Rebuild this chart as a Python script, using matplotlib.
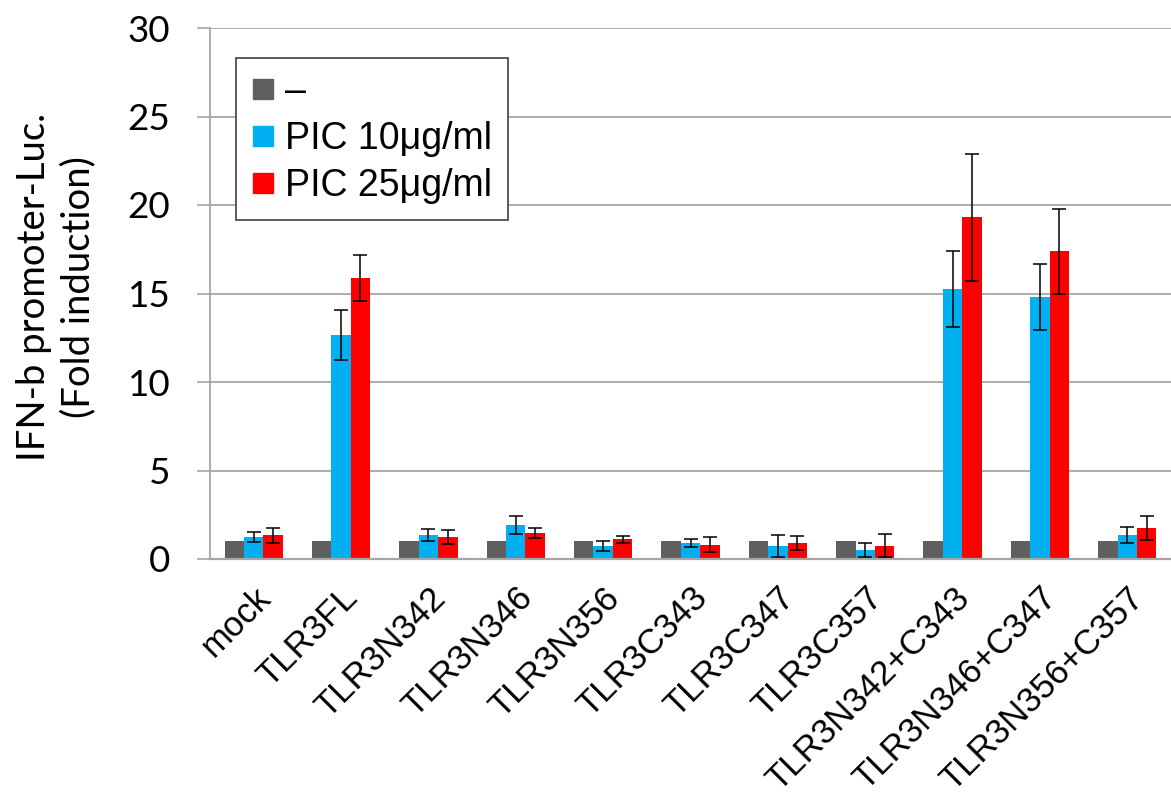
import numpy as np
import matplotlib
matplotlib.use('Agg')
import matplotlib.pyplot as plt
from matplotlib.lines import Line2D

# データ
categories = ['mock', 'TLR3FL', 'TLR3N342', 'TLR3N346', 'TLR3N356', 'TLR3C343',
              'TLR3C347', 'TLR3C357', 'TLR3N342+C343', 'TLR3N346+C347', 'TLR3N356+C357']
series_names = ['–', 'PIC 10μg/ml', 'PIC 25μg/ml']
ctrl = [1, 1, 1, 1, 1, 1, 1, 1, 1, 1, 1]
pic10 = [1.25, 12.66, 1.34, 1.92, 0.74, 0.91, 0.74, 0.53, 15.25, 14.8, 1.34]
pic10_err = [0.27, 1.4, 0.34, 0.49, 0.3, 0.23, 0.6, 0.4, 2.17, 1.88, 0.45]
pic25 = [1.33, 15.9, 1.25, 1.47, 1.11, 0.81, 0.91, 0.76, 19.3, 17.4, 1.77]
pic25_err = [0.42, 1.3, 0.38, 0.3, 0.19, 0.44, 0.4, 0.64, 3.6, 2.4, 0.67]
yticks = [0, 5, 10, 15, 20, 25, 30]

colors = ['#5f5f5f', '#00b0f0', '#ff0000']

fig = plt.figure(figsize=(11.71, 8.11), dpi=100)
ax = fig.add_axes([210 / 1171, (811 - 559) / 811, 961 / 1171, 531 / 811])

x = np.arange(len(categories))
w = 0.222
ax.bar(x - w, ctrl, w, color=colors[0], zorder=2)
ax.bar(x, pic10, w, color=colors[1], zorder=2)
ax.bar(x + w, pic25, w, color=colors[2], zorder=2)
ax.errorbar(x, pic10, yerr=pic10_err, fmt='none', ecolor='black',
            elinewidth=1.1, capsize=5, capthick=1.1, zorder=3)
ax.errorbar(x + w, pic25, yerr=pic25_err, fmt='none', ecolor='black',
            elinewidth=1.1, capsize=5, capthick=1.1, zorder=3)

ax.set_xlim(-0.5, len(categories) - 0.5)
ax.set_ylim(0, 30)
ax.set_yticks(yticks)
ax.yaxis.grid(True, color='#a6a6a6', linewidth=1.3)
ax.set_axisbelow(True)
for s in ['top', 'right']:
    ax.spines[s].set_visible(False)
ax.spines['left'].set_color('#a6a6a6')
ax.spines['left'].set_linewidth(1.3)
ax.spines['bottom'].set_color('#a6a6a6')
ax.spines['bottom'].set_linewidth(1.6)

ax.tick_params(axis='y', length=9.5, color='#a6a6a6', width=1.2, pad=19)
for lab in ax.get_yticklabels():
    lab.set_fontfamily('Lato')
    lab.set_fontsize(26.5)

ax.set_xticks(x)
ax.set_xticklabels(categories, rotation=45, ha='right', va='top',
                   rotation_mode='anchor', fontsize=25, family='Liberation Sans')
ax.tick_params(axis='x', length=0, pad=16)

# 縦軸ラベル
fig.text(56 / 1171, 1 - 287 / 811, 'IFN-b promoter-Luc.\n(Fold induction)',
         rotation=90, ha='center', va='center', multialignment='center',
         fontsize=27.5, family='Lato', linespacing=1.3)

handles = [Line2D([], [], marker='s', linestyle='none', markersize=14.5,
                  color=c) for c in colors]
leg = ax.legend(handles, series_names, loc='upper left',
                bbox_to_anchor=(0.027, 0.9435), borderaxespad=0,
                prop={'family': 'Liberation Sans', 'size': 27},
                handlelength=0.6, handletextpad=0.3, labelspacing=0.3,
                borderpad=0.42, fancybox=False, framealpha=1)
leg.get_frame().set_edgecolor('#404040')
leg.get_frame().set_linewidth(1.2)

fig.savefig('out.png', dpi=100)
